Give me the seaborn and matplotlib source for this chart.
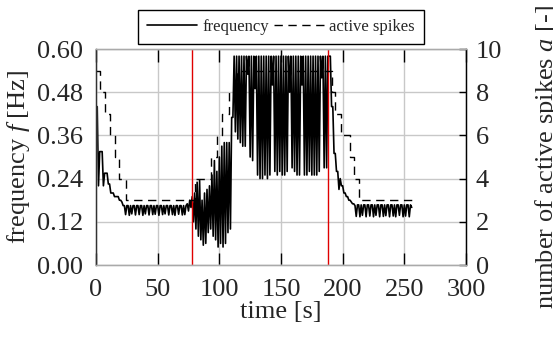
import numpy as np
import matplotlib
matplotlib.use("Agg")
import matplotlib.pyplot as plt
import seaborn as sns

# frequency [Hz], one sample per second, split into phases
freq_start = [0.44, 0.44, 0.22, 0.315, 0.315, 0.315, 0.22, 0.255, 0.255, 0.255, 0.225,
              0.225, 0.20, 0.20, 0.20, 0.19, 0.19, 0.19, 0.19, 0.18, 0.18, 0.175]
freq_low1 = [0.165, 0.165, 0.140, 0.165, 0.165, 0.138, 0.165, 0.142,
             0.165, 0.165, 0.139, 0.165, 0.165, 0.140, 0.165, 0.165,
             0.138, 0.165, 0.142, 0.165, 0.165, 0.139, 0.165, 0.165,
             0.140, 0.165, 0.141, 0.165, 0.165, 0.138, 0.165, 0.165,
             0.140, 0.165, 0.142, 0.165, 0.165, 0.139, 0.165, 0.165,
             0.140, 0.165, 0.138, 0.165, 0.165, 0.141, 0.165, 0.165,
             0.139, 0.165, 0.140, 0.165, 0.170, 0.150, 0.180, 0.160]
freq_rise = [0.19, 0.12, 0.20, 0.10, 0.23, 0.08, 0.235, 0.07, 0.18, 0.055,
             0.20, 0.06, 0.21, 0.09, 0.22, 0.10, 0.25, 0.08, 0.29, 0.07,
             0.26, 0.05, 0.30, 0.06, 0.33, 0.05, 0.34, 0.06, 0.34, 0.09,
             0.34, 0.10, 0.41, 0.41]
freq_high = [0.58, 0.37, 0.58, 0.35, 0.58, 0.34, 0.58, 0.33, 0.58, 0.33,
             0.58, 0.53, 0.58, 0.30, 0.58, 0.29, 0.58, 0.49, 0.58, 0.25,
             0.58, 0.24, 0.58, 0.24, 0.58, 0.25, 0.58, 0.24, 0.58, 0.25,
             0.58, 0.50, 0.58, 0.26, 0.58, 0.25, 0.58, 0.26, 0.58, 0.25,
             0.58, 0.25, 0.58, 0.26, 0.58, 0.48, 0.58, 0.27, 0.58, 0.26,
             0.58, 0.25, 0.58, 0.25, 0.58, 0.50, 0.58, 0.25, 0.58, 0.25,
             0.58, 0.26, 0.58, 0.25, 0.58, 0.25, 0.58, 0.25, 0.58, 0.26,
             0.58, 0.52, 0.58, 0.27, 0.58, 0.27, 0.58, 0.58]
freq_decay = [0.58, 0.44, 0.44, 0.31, 0.31, 0.26, 0.26, 0.21, 0.24, 0.22,
              0.22, 0.20, 0.20, 0.19, 0.19, 0.18, 0.18, 0.175, 0.17]
freq_low2 = [0.170, 0.165, 0.135, 0.167, 0.167, 0.134, 0.167, 0.138,
             0.167, 0.167, 0.134, 0.167, 0.167, 0.136, 0.167, 0.167,
             0.134, 0.167, 0.138, 0.167, 0.167, 0.134, 0.167, 0.167,
             0.135, 0.167, 0.137, 0.167, 0.167, 0.134, 0.167, 0.167,
             0.136, 0.167, 0.134, 0.167, 0.167, 0.138, 0.167, 0.167,
             0.134, 0.167, 0.136, 0.167, 0.167, 0.134, 0.167, 0.160]

# number of active spikes, step changes
spike_time = [0, 3, 7, 11, 15, 19, 24, 80, 93, 98, 102, 108, 114,
              191, 194, 199, 206, 209, 213, 256]
spike_count = [9, 8, 7, 6, 5, 4, 3, 4, 5, 6, 7, 8, 9,
               8, 7, 6, 5, 4, 3, 3]

event_times = [77.5, 188.5]

frequency = np.array(freq_start + freq_low1 + freq_rise + freq_high + freq_decay + freq_low2)
time = np.arange(len(frequency))

sns.set_theme(style="whitegrid")
plt.rcParams['font.family'] = ['Liberation Serif', 'DejaVu Serif']
plt.rcParams['mathtext.fontset'] = 'custom'
plt.rcParams['mathtext.rm'] = 'Liberation Serif'
plt.rcParams['mathtext.it'] = 'Liberation Serif:italic'

fig = plt.figure(figsize=(5.53, 3.42), dpi=100)
ax = fig.add_axes([96 / 553, 1 - 265 / 342, 370 / 553, 216 / 342])
ax2 = ax.twinx()

sns.lineplot(x=time, y=frequency, ax=ax, color='black', linewidth=1.2, label='frequency', legend=False)
ax2.plot(spike_time, spike_count, color='black', linewidth=1.0, linestyle=(0, (6, 4)),
         drawstyle='steps-post', label='active spikes')

for t in event_times:
    ax.axvline(t, color='#e00000', linewidth=1.0)

ax.set_xlim(0, 300)
ax.set_ylim(0, 0.60)
ax.set_xticks(np.arange(0, 301, 50))
ax.set_yticks([0.0, 0.12, 0.24, 0.36, 0.48, 0.60])
ax.set_yticklabels([f"{v:.2f}" for v in [0.0, 0.12, 0.24, 0.36, 0.48, 0.60]])
ax2.set_ylim(0, 10)
ax2.set_yticks(np.arange(0, 11, 2))
ax2.grid(False)

ax.grid(True, color='#c8c8c8', linewidth=1.0)
ax.tick_params(axis='x', direction='in', length=9, width=1, color='black', top=True,
               bottom=True, labelsize=19, pad=10)
ax.tick_params(axis='y', length=0, labelsize=19, pad=9)
ax2.tick_params(axis='y', direction='in', length=5, width=1, color='black', labelsize=19, pad=7)

for a in (ax, ax2):
    for s in a.spines.values():
        s.set_linewidth(1.0)
ax2.spines['left'].set_color('#333333')
ax2.spines['bottom'].set_color('#aaaaaa')
ax2.spines['top'].set_color('#aaaaaa')
ax2.spines['right'].set_color('black')

ax.set_xlabel("time [s]", fontsize=19, labelpad=0)
ax.set_ylabel("frequency $f$ [Hz]", fontsize=19, labelpad=4)
ax2.set_ylabel("number of active spikes $a$ [-]", fontsize=19, labelpad=22)

h1, l1 = ax.get_legend_handles_labels()
h2, l2 = ax2.get_legend_handles_labels()
leg = ax2.legend(h1 + h2, l1 + l2, loc='lower center', bbox_to_anchor=(0.5, 1.0), ncol=2,
                 fontsize=12, frameon=True, fancybox=False, edgecolor='black', framealpha=1,
                 handlelength=3.0, handletextpad=0.3, columnspacing=0.3, borderpad=0.55,
                 borderaxespad=0.3)
leg.get_frame().set_linewidth(1.0)

fig.savefig("out.png", dpi=100)
